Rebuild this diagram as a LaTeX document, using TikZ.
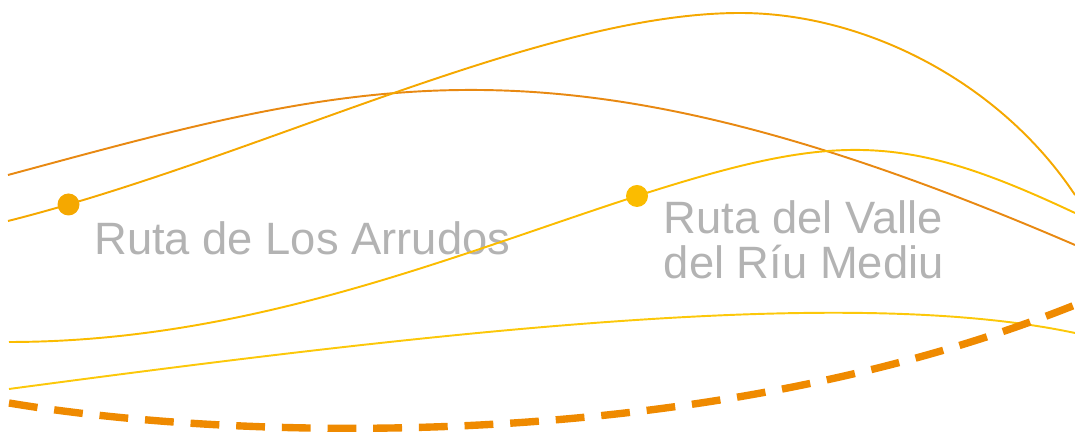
\documentclass[tikz,border=0pt]{standalone}
\usepackage{fontspec}
\setmainfont{Liberation Sans}
\definecolor{routedark}{RGB}{232, 137, 18}
\definecolor{routeamber}{RGB}{245, 168, 0}
\definecolor{routegold}{RGB}{251, 188, 0}
\definecolor{routeyellow}{RGB}{252, 200, 10}
\definecolor{routedash}{RGB}{239, 138, 0}
\definecolor{labelgray}{RGB}{179, 179, 179}
\usetikzlibrary{positioning}

\begin{document}
\begin{tikzpicture}[
    trail/.style={line width=1.1pt},
    stop/.style={circle, inner sep=0pt, minimum size=0.44cm},
    routename/.style={text=labelgray, inner sep=0pt, align=left,
      font=\fontsize{25.8}{26}\selectfont}
  ]
  \useasboundingbox (0, 0) rectangle (21.5, 8.64);

  % Route names
  \node[routename, anchor=base west] (arrudos) at (1.88, 3.54) {Ruta de Los Arrudos};
  \node[routename, anchor=base west] (valle) at (13.27, 3.06) {Ruta del Valle\\del Ríu Mediu};

  % Thin trails
  \draw[trail, routedark] (0.16, 5.14) .. controls (7.28, 7.06) and (11.10, 8.22) .. (21.50, 3.74);
  \draw[trail, routeamber] (0.16, 4.22) .. controls (5.16, 5.48) and (10.80, 8.38) .. (14.80, 8.38)
    .. controls (17.30, 8.38) and (20.00, 7.00) .. (21.50, 4.74);
  \coordinate (valleystop) at (12.74, 4.72);
  \draw[trail, routegold] (0.18, 1.80) .. controls (5.00, 1.80) and (9.14, 3.56) .. (valleystop)
    .. controls (16.74, 6.00) and (18.06, 6.00) .. (21.50, 4.38);
  \draw[trail, routeyellow] (0.18, 0.86) .. controls (9.00, 2.04) and (17.00, 2.94) .. (21.50, 1.98);

  % Main dashed route
  \draw[routedash, line width=4.2pt, dash pattern=on 16.4pt off 9.6pt]
    (0.18, 0.58) .. controls (4.58, -0.16) and (13.90, -0.50) .. (21.50, 2.54);

  % Stops
  \node[stop, fill=routeamber] (arrudosstop) at (1.37, 4.55) {};
  \node[stop, fill=routegold] (vallestop) at (valleystop) {};
\end{tikzpicture}
\end{document}
